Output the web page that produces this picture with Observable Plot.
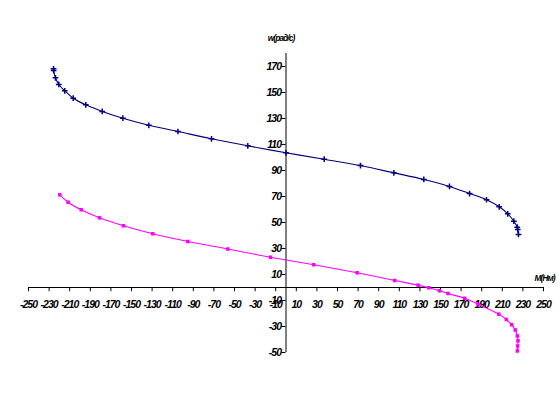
<!DOCTYPE html>
<html>
<head>
<meta charset="utf-8">
<script src="https://cdn.jsdelivr.net/npm/d3@7"></script>
<script src="https://cdn.jsdelivr.net/npm/@observablehq/plot@0.6"></script>
<style>
  html, body { margin: 0; padding: 0; background: #fff; }
  svg { display: block; }
</style>
</head>
<body>
<div id="chart"></div>
<script>
// Navy series (w vs M)
const navyM = [-225.7, -225.6, -223.8, -220.6, -214.8, -206.6, -194.4, -178.4, -158.4, -133.2, -104.9, -72.3, -37.1, 0, 37.1, 72.3, 104.7, 133.8, 158.7, 178.2, 194.7, 207.0, 215.3, 221.2, 224.5, 225.0, 225.7];
const navyW = [168.2, 166.9, 161.3, 156.2, 151.3, 145.6, 140.5, 135.4, 130.2, 124.8, 120.0, 114.4, 109.0, 103.6, 98.7, 93.8, 88.2, 83.1, 77.7, 72.3, 67.5, 62.1, 56.7, 51.0, 46.4, 44.6, 40.8];

// Magenta series
const magM = [-219.6, -211.5, -198.8, -181.1, -157.8, -129.3, -95.3, -56.5, -15.0, 27.0, 69.1, 105.6, 128.3, 138.6, 149.0, 157.3, 173.5, 186.4, 206.6, 213.9, 219.1, 222.6, 224.6, 225.2, 224.9, 224.6];
const magW = [71.3, 65.6, 59.8, 53.6, 47.5, 41.3, 35.4, 29.6, 23.3, 17.5, 11.3, 5.4, 1.8, -0.2, -2.5, -4.6, -8.3, -12.8, -20.5, -24.6, -28.6, -32.7, -37.3, -41.0, -45.0, -48.8];

// Tick labels
const xTicks = [-250, -230, -210, -190, -170, -150, -130, -110, -90, -70, -50, -30, -10, 10, 30, 50, 70, 90, 110, 130, 150, 170, 190, 210, 230, 250];
const yTicks = [-50, -30, -10, 10, 30, 50, 70, 90, 110, 130, 150, 170];
const yTitle = "w(рад/с)";
const xTitle = "M(Нм)";

const navy = navyM.map((m, i) => ({m, w: navyW[i]}));
const mag = magM.map((m, i) => ({m, w: magW[i]}));

const font = {fontFamily: "Liberation Sans, Arial, sans-serif", fontStyle: "italic", fontWeight: "bold"};

const chart = Plot.plot({
  width: 560,
  height: 393,
  marginLeft: 28,
  marginRight: 17,
  marginTop: 53,
  marginBottom: 41,
  x: {domain: [-250, 250], axis: null},
  y: {domain: [-50, 180], axis: null},
  style: {background: "#fff", fontFamily: "Liberation Sans, Arial, sans-serif", overflow: "visible"},
  marks: [
    // axes lines
    Plot.ruleY([0], {x1: -250, x2: 250, stroke: "#000", strokeWidth: 1}),
    Plot.ruleX([0], {y1: -50, y2: 180, stroke: "#000", strokeWidth: 1}),
    // tick marks
    Plot.ruleX(xTicks, {x: d => d, y1: 0, y2: -3.2, stroke: "#000"}),
    Plot.ruleY(yTicks, {y: d => d, x1: 0, x2: -4, stroke: "#000"}),
    // tick labels
    Plot.text(xTicks, {x: d => d, y: 0, dy: 17, text: d => String(d), fontSize: 10.5, ...font, fill: "#000"}),
    Plot.text(yTicks, {x: 0, y: d => d, dx: -5, textAnchor: "end", text: d => String(d), fontSize: 10.5, ...font, fill: "#000"}),
    // titles
    Plot.text([yTitle], {x: 0, y: 180, dx: -5, dy: -15, text: d => d, fontSize: 8.5, ...font, fill: "#000"}),
    Plot.text([xTitle], {x: 250, y: 0, dx: 1, dy: -9, text: d => d, fontSize: 8.5, ...font, fill: "#000"}),
    // series
    Plot.line(navy, {x: "m", y: "w", stroke: "#000080", strokeWidth: 1.1, curve: "catmull-rom"}),
    Plot.dot(navy, {x: "m", y: "w", symbol: "plus", r: 2, stroke: "#000080", strokeWidth: 1.5}),
    Plot.line(mag, {x: "m", y: "w", stroke: "#ff00ff", strokeWidth: 1.1, curve: "catmull-rom"}),
    Plot.dot(mag, {x: "m", y: "w", symbol: "square", r: 2, fill: "#ff00ff", stroke: "none"})
  ]
});
// tighten letter spacing for all text like the reference
chart.querySelectorAll("text").forEach(t => t.setAttribute("letter-spacing", "-1"));
document.getElementById("chart").appendChild(chart);
</script>
</body>
</html>
